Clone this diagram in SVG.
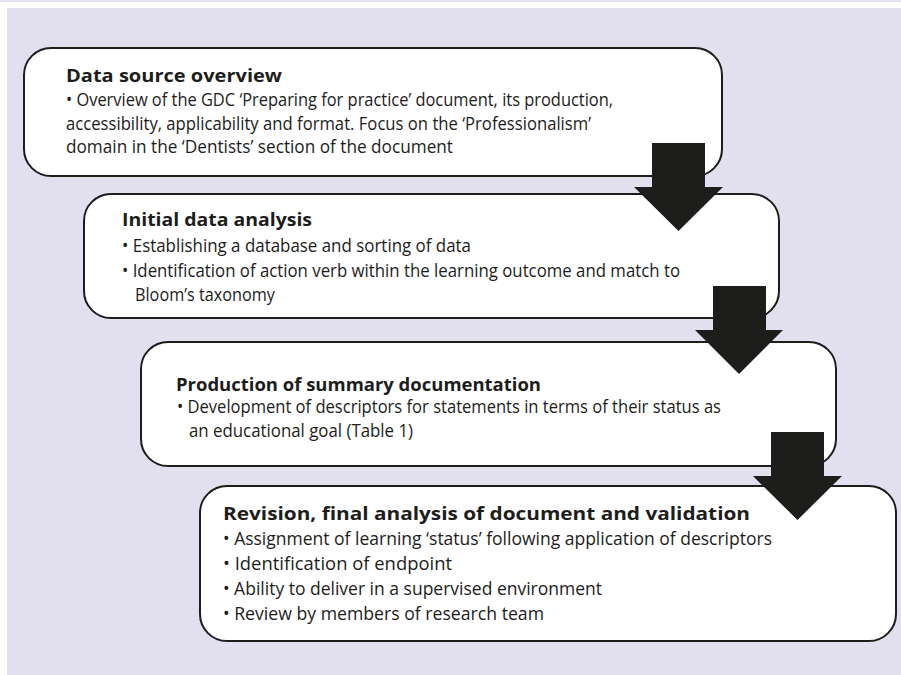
<svg xmlns="http://www.w3.org/2000/svg" width="901" height="675" viewBox="0 0 901 675">
  <style>
    .panel { fill: #E2DFEE; }
    .box { fill: #FFFFFF; stroke: #1D1D1B; stroke-width: 2; }
    .arrow { fill: #1D1D1B; stroke: none; }
    text { font-family: "Open Sans", "Noto Sans", "Liberation Sans", sans-serif; font-size: 18px; fill: #1D1D1B; }
    .title { font-weight: bold; }
  </style>

  <!-- background panel with thin rule above -->
  <rect x="0" y="0" width="901" height="675" fill="#FFFFFF"/>
  <rect class="panel" x="0" y="0" width="901" height="2"/>
  <rect class="panel" x="7" y="8" width="894" height="667"/>

  <g id="data-source-overview">
    <rect class="box" x="24" y="48" width="698" height="128" rx="27" ry="27"/>
    <text class="title" x="66" y="82" textLength="216" lengthAdjust="spacingAndGlyphs">Data source overview</text>
    <text x="66" y="106" textLength="547" lengthAdjust="spacingAndGlyphs">• Overview of the GDC ‘Preparing for practice’ document, its production,</text>
    <text x="66" y="130" textLength="525" lengthAdjust="spacingAndGlyphs">accessibility, applicability and format. Focus on the ‘Professionalism’</text>
    <text x="66" y="153" textLength="387" lengthAdjust="spacingAndGlyphs">domain in the ‘Dentists’ section of the document</text>
  </g>

  <g id="initial-data-analysis">
    <rect class="box" x="84" y="194" width="695" height="124" rx="27" ry="27"/>
    <text class="title" x="122" y="226" textLength="190" lengthAdjust="spacingAndGlyphs">Initial data analysis</text>
    <text x="122" y="252" textLength="349" lengthAdjust="spacingAndGlyphs">• Establishing a database and sorting of data</text>
    <text x="122" y="277" textLength="558" lengthAdjust="spacingAndGlyphs">• Identification of action verb within the learning outcome and match to</text>
    <text x="135" y="301" textLength="140" lengthAdjust="spacingAndGlyphs">Bloom’s taxonomy</text>
  </g>

  <g id="summary-documentation">
    <rect class="box" x="141" y="342" width="695" height="124" rx="27" ry="27"/>
    <text class="title" x="176" y="391" textLength="365" lengthAdjust="spacingAndGlyphs">Production of summary documentation</text>
    <text x="177" y="413" textLength="544" lengthAdjust="spacingAndGlyphs">• Development of descriptors for statements in terms of their status as</text>
    <text x="189" y="437" textLength="224" lengthAdjust="spacingAndGlyphs">an educational goal (Table 1)</text>
  </g>

  <g id="revision-validation">
    <rect class="box" x="200" y="486" width="696" height="155" rx="27" ry="27"/>
    <text class="title" x="223" y="520" textLength="527" lengthAdjust="spacingAndGlyphs">Revision, final analysis of document and validation</text>
    <text x="223" y="545" textLength="549" lengthAdjust="spacingAndGlyphs">• Assignment of learning ‘status’ following application of descriptors</text>
    <text x="223" y="570" textLength="229" lengthAdjust="spacingAndGlyphs">• Identification of endpoint</text>
    <text x="223" y="595" textLength="379" lengthAdjust="spacingAndGlyphs">• Ability to deliver in a supervised environment</text>
    <text x="223" y="620" textLength="321" lengthAdjust="spacingAndGlyphs">• Review by members of research team</text>
  </g>

  <!-- block arrows linking the stages -->
  <g id="connectors">
    <polygon class="arrow" points="652,143 705,143 705,187 723,187 678.5,231 634,187 652,187"/>
    <polygon class="arrow" points="713,286 766,286 766,330 783,330 739,374 695,330 713,330"/>
    <polygon class="arrow" points="771,432 824,432 824,476 842,476 797.5,520 753,476 771,476"/>
  </g>
</svg>
